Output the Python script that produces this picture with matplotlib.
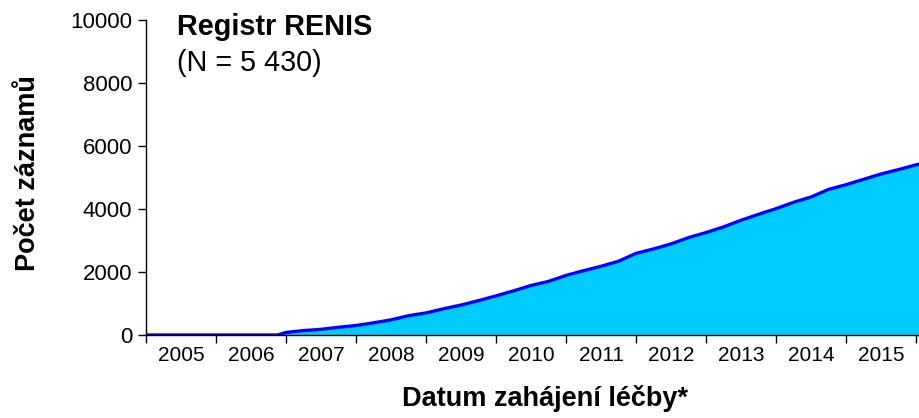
import numpy as np
import matplotlib.pyplot as plt
from matplotlib.ticker import FixedLocator, NullFormatter

plt.rcParams['font.family'] = ['Liberation Sans', 'DejaVu Sans']

# cumulative number of records by start of treatment
years = [2005.0, 2006.88, 2007.0, 2007.25, 2007.5, 2007.75, 2008.0, 2008.25, 2008.5,
         2008.75, 2009.0, 2009.25, 2009.5, 2009.75, 2010.0, 2010.25, 2010.5, 2010.75,
         2011.0, 2011.25, 2011.5, 2011.75, 2012.0, 2012.25, 2012.5, 2012.75, 2013.0,
         2013.25, 2013.5, 2013.75, 2014.0, 2014.25, 2014.5, 2014.75, 2015.0, 2015.25,
         2015.5, 2015.75, 2016.06]
records = [0, 0, 80, 140, 180, 245, 300, 385, 480,
           610, 700, 830, 950, 1090, 1240, 1400, 1570, 1700,
           1890, 2040, 2180, 2340, 2590, 2730, 2890, 3090, 3250,
           3430, 3640, 3830, 4010, 4210, 4380, 4620, 4770, 4940,
           5110, 5250, 5435]
year_labels = [str(y) for y in range(2005, 2016)]

fig = plt.figure(figsize=(9.2, 4.18), dpi=100)
ax = fig.add_axes([146 / 920, 83 / 418, 774 / 920, 315 / 418])

ax.fill_between(years, records, 0, color='#00CCFF', linewidth=0)
ax.plot(years, records, color='#0000FF', linewidth=2.4, solid_joinstyle='round')

ax.set_xlim(2005, 2005 + 774 / 70)
ax.set_ylim(0, 10000)
ax.set_yticks(range(0, 10001, 2000))

ax.xaxis.set_major_locator(FixedLocator(range(2005, 2017)))
ax.xaxis.set_major_formatter(NullFormatter())
ax.xaxis.set_minor_locator(FixedLocator([y + 0.5 for y in range(2005, 2016)]))
ax.set_xticklabels(year_labels, minor=True)
ax.tick_params(axis='x', which='major', direction='out', length=6, width=1)
ax.tick_params(axis='x', which='minor', length=0, pad=8, labelsize=15)
ax.tick_params(axis='y', direction='out', length=6, width=1, labelsize=16, pad=4)

for s in ['top', 'right']:
    ax.spines[s].set_visible(False)
ax.spines['left'].set_linewidth(1)
ax.spines['bottom'].set_linewidth(1)

fig.text(545 / 920, 1 - 406 / 418, 'Datum zahájení léčby*', fontsize=19.5,
         fontweight='bold', ha='center', va='baseline')
fig.text(28 / 920, 1 - 173 / 418, 'Počet záznamů', fontsize=19.5,
         fontweight='bold', ha='center', va='center', rotation=90)

fig.text(177 / 920, 1 - 35 / 418, 'Registr RENIS', fontsize=20.8, fontweight='bold')
fig.text(177 / 920, 1 - 71 / 418, '(N = 5 430)', fontsize=20.7)

fig.savefig('out.png', dpi=100)
